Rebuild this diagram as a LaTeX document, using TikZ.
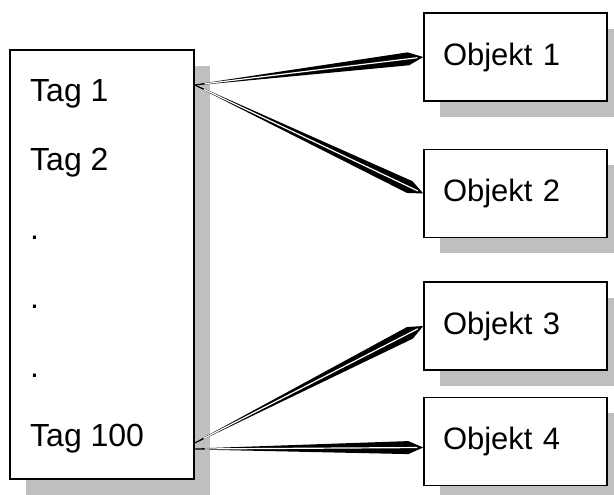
\documentclass[tikz,border=0pt]{standalone}
\usepackage{fontspec}
\setmainfont{Liberation Sans}
\usetikzlibrary{calc,shadows}

% wedge arrow from #1 to #2
\newcommand{\pfeil}[2]{%
  \fill ($(#1)!0.5pt!90:(#2)$) -- ($(#2)!15pt!(#1)!6.5pt!-90:(#1)$) -- (#2)
     -- ($(#2)!15pt!(#1)!6.5pt!90:(#1)$) -- ($(#1)!0.5pt!-90:(#2)$) -- cycle;
  \draw[white, line width=1.2pt] ($(#1)!10pt!(#2)$) -- ($(#2)!6pt!(#1)$);
}

\tikzset{
  kasten/.style={draw, line width=1.5pt, fill=white,
    drop shadow={shadow xshift=16pt, shadow yshift=-16pt, fill=gray!50, opacity=1}},
  objekt/.style={kasten, minimum width=183pt, minimum height=88pt, inner sep=0pt,
    text width=145pt, align=left},
  eintrag/.style={anchor=base west, inner sep=0pt, font=\fontsize{32}{38}\selectfont}
}

\begin{document}
\begin{tikzpicture}[x=1pt, y=1pt, font=\fontsize{31}{37}\selectfont]
  \useasboundingbox (0,0) rectangle (614,495);

  \node[kasten, minimum width=184pt, minimum height=429pt] (tags) at (102,230.5) {}; % tag list
  \node[eintrag] (t1) at (30,393) {Tag 1};
  \node[eintrag] (t2) at (30,324) {Tag 2};
  \node[eintrag] (t3) at (30,255) {.};
  \node[eintrag] (t4) at (30,186) {.};
  \node[eintrag] (t5) at (30,117) {.};
  \node[eintrag] (t6) at (30,48) {Tag 100};

  \node[objekt] (obj1) at (515.5,438) {Objekt 1};
  \node[objekt] (obj2) at (515.5,301.5) {Objekt 2};
  \node[objekt] (obj3) at (515.5,169) {Objekt 3};
  \node[objekt] (obj4) at (515.5,53.5) {Objekt 4};

  \coordinate (von1) at (tags.east |- 0,410);
  \coordinate (von2) at (tags.east |- 0,52);
  \coordinate (von3) at (tags.east |- 0,46);
  \coordinate (bis4) at ([yshift=-6pt]obj4.west);

  \pfeil{von1}{obj1.west}
  \pfeil{von1}{obj2.west}
  \pfeil{von2}{obj3.west}
  \pfeil{von3}{bis4}
\end{tikzpicture}
\end{document}
